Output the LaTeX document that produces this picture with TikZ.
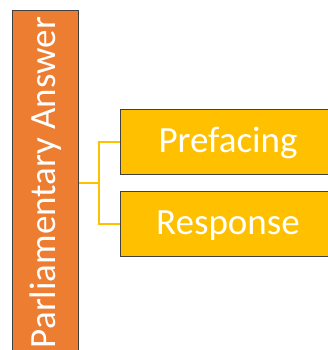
\documentclass[tikz,border=0pt]{standalone}
\usepackage{fontspec}
\setmainfont{Carlito}
\definecolor{rootorange}{HTML}{ED7D31}
\definecolor{leafgold}{HTML}{FFC000}
\begin{document}
\begin{tikzpicture}[x=1pt,y=-1pt,
  rootbox/.style={draw=black!75, line width=0.6pt, fill=rootorange, inner sep=0pt},
  leafbox/.style={draw=black!75, line width=0.6pt, fill=leafgold, inner sep=0pt},
  label/.style={text=white, inner sep=0pt, anchor=base, font=\fontsize{37}{44}\selectfont},
  link/.style={draw=leafgold, line width=2pt}]
\useasboundingbox (0,0) rectangle (328,350);
% vertical root box
\node[rootbox, minimum width=66pt, minimum height=342pt, anchor=north west] (root) at (12,10) {};
\node[label, rotate=90] (roottext) at (55,182.5) {Parliamentary Answer};
% child boxes
\node[leafbox, minimum width=210pt, minimum height=65pt, anchor=north west] (pref) at (120,109) {};
\node[label] (preftext) at (228,152) {Prefacing};
\node[leafbox, minimum width=210pt, minimum height=65pt, anchor=north west] (resp) at (120,191) {};
\node[label] (resptext) at (228,234) {Response};
% bracket connectors
\coordinate (fork) at (99,183);
\draw[link] (root.east |- fork) -- (fork);
\draw[link] (pref.west) -| (fork) |- (resp.west);
\end{tikzpicture}
\end{document}
